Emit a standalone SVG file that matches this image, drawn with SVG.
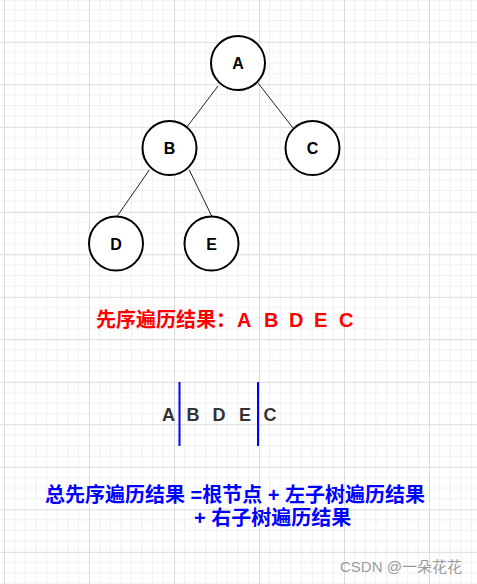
<svg xmlns="http://www.w3.org/2000/svg" width="477" height="584" viewBox="0 0 477 584">
<defs>
<pattern id="grid" patternUnits="userSpaceOnUse" x="4" y="41.8" width="85" height="42.5">
<path d="M10.625 0V42.5M21.25 0V42.5M31.875 0V42.5M42.5 0V42.5M53.125 0V42.5M63.75 0V42.5M74.375 0V42.5M0 10.625H85M0 21.25H85M0 31.875H85" stroke="#f0f0f0" stroke-width="1" fill="none"/>
<path d="M0.5 0V42.5M0 0.5H85" stroke="#dadada" stroke-width="1" fill="none"/>
</pattern>
<style>
.node circle{fill:#fff;stroke:#000;stroke-width:2}
.node text{font-family:"Liberation Sans",Arial,sans-serif;font-weight:bold;font-size:16px;text-anchor:middle;fill:#000}
.edges line{stroke:#222;stroke-width:1}
.cjk{font-family:"Liberation Sans","Noto Sans CJK SC",sans-serif;font-weight:bold;font-size:20px}
</style>
</defs>
<rect width="477" height="584" fill="#fff"/>
<rect width="477" height="584" fill="url(#grid)"/>
<g class="edges" id="connectors">
<line x1="218" y1="86" x2="186.7" y2="127.3"/>
<line x1="258.3" y1="83.3" x2="293.3" y2="128.3"/>
<line x1="149.3" y1="170" x2="117.3" y2="216"/>
<line x1="189.3" y1="170" x2="211.7" y2="216"/>
</g>
<g class="node" id="node-A"><circle cx="238" cy="63" r="27"/><text x="238" y="69">A</text></g>
<g class="node" id="node-B"><circle cx="169.5" cy="148" r="27"/><text x="169.5" y="154">B</text></g>
<g class="node" id="node-C"><circle cx="312.5" cy="148" r="27"/><text x="312.5" y="154">C</text></g>
<g class="node" id="node-D"><circle cx="116" cy="243.5" r="27"/><text x="116" y="249.5">D</text></g>
<g class="node" id="node-E"><circle cx="211.5" cy="243.5" r="27"/><text x="211.5" y="249.5">E</text></g>
<text class="cjk" fill="#ff0000" y="327"><tspan x="96">先序遍历结果：</tspan><tspan x="237">A</tspan><tspan x="264">B</tspan><tspan x="289">D</tspan><tspan x="314">E</tspan><tspan x="339">C</tspan></text>
<g id="sequence">
<text font-family="'Liberation Sans',Arial,sans-serif" font-weight="bold" font-size="18" fill="#333" y="421"><tspan x="162">A</tspan><tspan x="186.5">B</tspan><tspan x="212.5">D</tspan><tspan x="239">E</tspan><tspan x="263.5">C</tspan></text>
<line x1="179.5" y1="382" x2="179.5" y2="446" stroke="#0000ff" stroke-width="2"/>
<line x1="258" y1="382" x2="258" y2="446" stroke="#0000ff" stroke-width="2"/>
</g>
<text class="cjk" fill="#0000ff"><tspan x="45" y="502">总先序遍历结果 =根节点 + 左子树遍历结果</tspan><tspan x="194" y="525">+ 右子树遍历结果</tspan></text>
<text x="340" y="572" font-family="'Liberation Sans','Noto Sans CJK SC',sans-serif" font-size="15" fill="#9a9a9a">CSDN @一朵花花</text>
</svg>
